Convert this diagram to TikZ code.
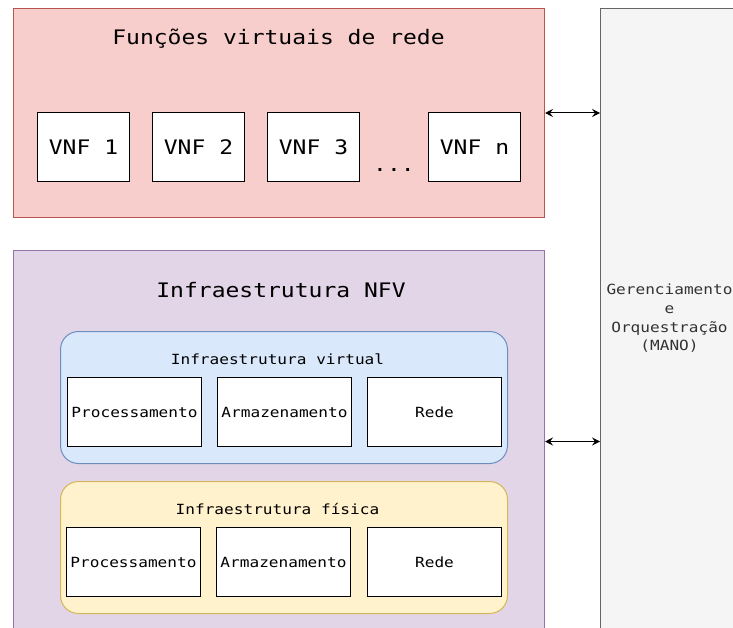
\documentclass[tikz,border=0pt]{standalone}
\usepackage{fontspec}
\newfontfamily\diagfont[FakeStretch=1.15]{DejaVu Sans Mono}
\usetikzlibrary{arrows.meta}
\definecolor{redfill}{HTML}{F8CECC}
\definecolor{redline}{HTML}{B85450}
\definecolor{purfill}{HTML}{E1D5E7}
\definecolor{purline}{HTML}{9673A6}
\definecolor{bluefill}{HTML}{DAE8FC}
\definecolor{blueline}{HTML}{6C8EBF}
\definecolor{yelfill}{HTML}{FFF2CC}
\definecolor{yelline}{HTML}{D6B656}
\definecolor{grayfill}{HTML}{F5F5F5}
\definecolor{grayline}{HTML}{666666}
\definecolor{graytext}{HTML}{333333}
\tikzset{
  container/.style={draw, line width=1pt, inner sep=0pt, anchor=north west},
  bigtext/.style={font=\diagfont\fontsize{20}{24}\selectfont, inner sep=0pt, anchor=base},
  smalltext/.style={font=\diagfont\fontsize{14}{16.5}\selectfont, inner sep=0pt, anchor=base},
  vnfbox/.style={draw=black, fill=white, line width=1pt, inner sep=0pt, anchor=north west,
    minimum width=92pt, minimum height=69pt,
    font=\diagfont\fontsize{20}{24}\selectfont, text height=14.6pt, text depth=0pt},
  resbox/.style={draw=black, fill=white, line width=1pt, inner sep=0pt, anchor=north west,
    minimum width=134pt, minimum height=69pt,
    font=\diagfont\fontsize{14}{16.5}\selectfont, text height=10.2pt, text depth=0pt},
  biarrow/.style={line width=1pt, {Stealth[length=8pt,width=8pt,inset=3pt]}-{Stealth[length=8pt,width=8pt,inset=3pt]}}
}
\begin{document}
\begin{tikzpicture}[x=1pt,y=-1pt]
\useasboundingbox (0,0) rectangle (733,628);
\clip (0,0) rectangle (733,628);
\fill[white] (0,0) rectangle (733,628);

% MANO
\node[container, draw=grayline, fill=grayfill, minimum width=139pt, minimum height=640pt] (mano) at (600,8) {};
\node[font=\diagfont\fontsize{14}{16.5}\selectfont, text=graytext, align=center, inner sep=0pt] (manotext) at (669.5,318.5)
  {Gerenciamento\\[2.2pt]e\\[2.2pt]Orquestração\\[2.2pt](MANO)};

% VNF container
\node[container, draw=redline, fill=redfill, minimum width=531pt, minimum height=209pt] (vnfs) at (13,8) {};
\node[bigtext] (vnftitle) at (278.5,45) {Funções virtuais de rede};
\node[vnfbox] (vnf1) at (37,112) {VNF 1};
\node[vnfbox] (vnf2) at (152,112) {VNF 2};
\node[vnfbox] (vnf3) at (267,112) {VNF 3};
\node[vnfbox] (vnfn) at (428,112) {VNF n};
\node[bigtext] (dots) at (394,172) {...};

% NFVI container
\node[container, draw=purline, fill=purfill, minimum width=531pt, minimum height=382pt] (nfvi) at (13,250) {};
\node[bigtext] (nfvititle) at (281,298) {Infraestrutura NFV};

% virtual infrastructure
\node[container, draw=blueline, fill=bluefill, rounded corners=18pt, minimum width=447pt, minimum height=132pt] (virt) at (60,331) {};
\node[smalltext] (virttitle) at (277.5,364.5) {Infraestrutura virtual};
\node[resbox] (vproc) at (67,377) {Processamento};
\node[resbox] (varm) at (217,377) {Armazenamento};
\node[resbox] (vrede) at (367,377) {Rede};

% physical infrastructure
\node[container, draw=yelline, fill=yelfill, rounded corners=18pt, minimum width=447pt, minimum height=132pt] (phys) at (60,481) {};
\node[smalltext] (phystitle) at (277.5,514) {Infraestrutura física};
\node[resbox] (pproc) at (66,527) {Processamento};
\node[resbox] (parm) at (216,527) {Armazenamento};
\node[resbox] (prede) at (367,527) {Rede};

% arrows
\draw[biarrow] (vnfs.east) -- (vnfs.east -| mano.west);
\draw[biarrow] (nfvi.east) -- (nfvi.east -| mano.west);
\end{tikzpicture}
\end{document}
